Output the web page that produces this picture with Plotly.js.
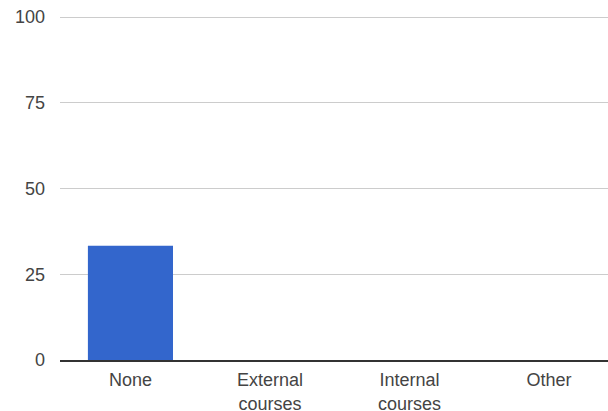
<!DOCTYPE html>
<html>
<head>
<meta charset="utf-8">
<script src="https://cdn.plot.ly/plotly-3.0.1.min.js"></script>
<style>html,body{margin:0;padding:0;background:#fff;}#chart{width:608px;height:411px;}</style>
</head>
<body>
<div id="chart"></div>
<script>
const categories = ["None", "External courses", "Internal courses", "Other"];
const tickLabels = ["None", "External<br>courses", "Internal<br>courses", "Other"];
const values = [33.3, 0, 0, 0];
const yTicks = [0, 25, 50, 75, 100];

const trace = {
  type: 'bar',
  x: categories,
  y: values,
  width: 0.61,
  marker: {color: '#3366cc'},
  hoverinfo: 'none'
};

const layout = {
  width: 608,
  height: 411,
  margin: {l: 60, r: 0, t: 16, b: 51, pad: 0},
  paper_bgcolor: '#fff',
  plot_bgcolor: '#fff',
  showlegend: false,
  font: {family: 'Arial, "Liberation Sans", sans-serif', size: 18, color: '#444'},
  xaxis: {
    type: 'category',
    range: [-0.505, 3.423],
    tickvals: categories,
    ticktext: tickLabels,
    showgrid: false,
    showline: true,
    linecolor: '#333',
    linewidth: 1.5,
    ticks: '',
    ticklabelstandoff: 3,
    tickfont: {size: 18, color: '#444'},
    fixedrange: true
  },
  yaxis: {
    range: [0, 100.3],
    tickvals: yTicks,
    ticktext: yTicks.map(String),
    showgrid: true,
    gridcolor: '#cccccc',
    gridwidth: 1,
    zeroline: false,
    showline: false,
    ticks: '',
    ticklabelstandoff: 14,
    tickfont: {size: 18, color: '#444'},
    fixedrange: true
  }
};

Plotly.newPlot('chart', [trace], layout, {displayModeBar: false, staticPlot: true});
</script>
</body>
</html>
